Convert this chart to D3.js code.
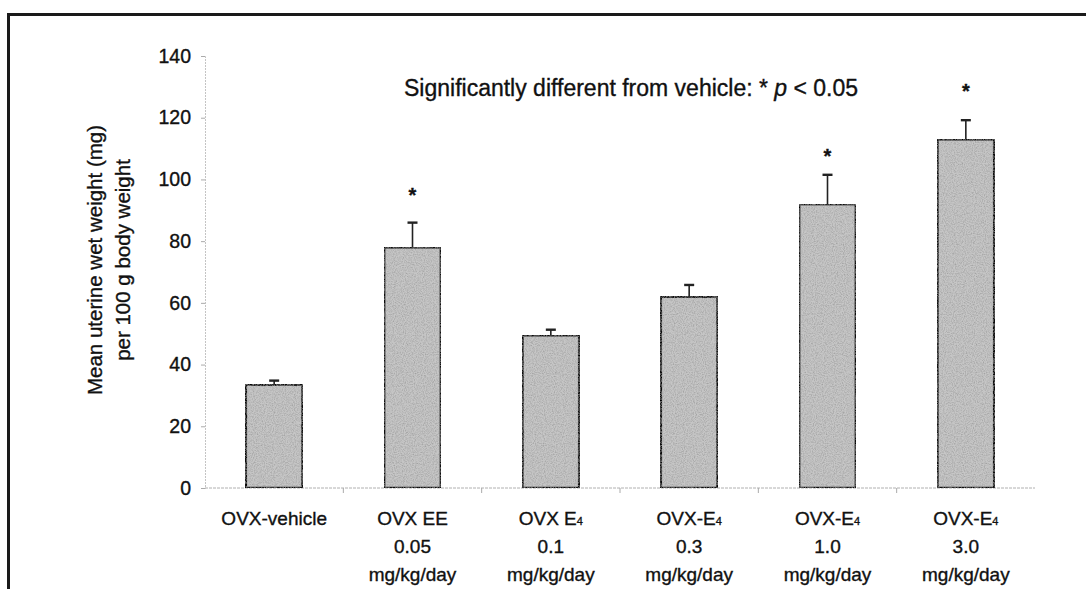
<!DOCTYPE html>
<html>
<head>
<meta charset="utf-8">
<script src="https://cdn.jsdelivr.net/npm/d3@7"></script>
<style>
  html, body { margin: 0; padding: 0; background: #fff; }
  svg { display: block; }
  text { font-family: "Liberation Sans", Arial, sans-serif; fill: #111; stroke: #111; stroke-width: 0.35px; }
</style>
</head>
<body>
<svg id="chart" width="1086" height="589"></svg>
<script>
// Treatment groups (first line of label, dose, unit)
const groups = ["OVX-vehicle", "OVX EE", "OVX E4", "OVX-E4", "OVX-E4", "OVX-E4"];
const doses = ["", "0.05", "0.1", "0.3", "1.0", "3.0"];
const units = ["", "mg/kg/day", "mg/kg/day", "mg/kg/day", "mg/kg/day", "mg/kg/day"];
// Mean uterine wet weight (mg per 100 g body weight) and upper SEM
const means = [33.5, 78, 49.5, 62, 92, 113];
const sem = [1.3, 8, 1.8, 3.8, 9.5, 6.2];
// Groups significantly different from vehicle, with the level of the marker
const significant = [false, true, false, false, true, true];
const starLevel = [null, 96, null, null, 108.5, 129.5];
const yTicks = [0, 20, 40, 60, 80, 100, 120, 140];

const svg = d3.select("#chart");

// Outer frame (top and left edges)
svg.append("path")
  .attr("d", "M8.5,1000 L8.5,14.5 L1100,14.5")
  .attr("fill", "none").attr("stroke", "#1a1a1a").attr("stroke-width", 3);

const x0 = 205, x1 = 1035, yTop = 56, yBase = 488;

const x = d3.scaleBand().domain(d3.range(groups.length)).range([x0, x1])
  .paddingInner(0.59).paddingOuter(0.295);
const y = d3.scaleLinear().domain([0, 140]).range([yBase, yTop]);

// grainy fill for the bars
const defs = svg.append("defs");
const f = defs.append("filter").attr("id", "grain").attr("x", 0).attr("y", 0).attr("width", 1).attr("height", 1);
f.append("feTurbulence").attr("type", "fractalNoise").attr("baseFrequency", 0.9).attr("numOctaves", 2).attr("seed", 3).attr("result", "n");
f.append("feColorMatrix").attr("in", "n").attr("type", "matrix")
  .attr("values", "0 0 0 0 0.3  0 0 0 0 0.3  0 0 0 0 0.3  1.5 0 0 0 -0.55").attr("result", "g");
f.append("feComposite").attr("in", "g").attr("in2", "SourceGraphic").attr("operator", "in").attr("result", "gc");
f.append("feMerge").selectAll("feMergeNode").data(["SourceGraphic", "gc"]).join("feMergeNode").attr("in", d => d);

// Y axis
const yAxis = svg.append("g").attr("transform", `translate(${x0},0)`)
  .call(d3.axisLeft(y).tickValues(yTicks).tickSize(4).tickPadding(10));
yAxis.select(".domain").attr("stroke", "#c4c4c4").attr("stroke-dasharray", "2,1");
yAxis.selectAll(".tick line").attr("stroke", "#aaa");
yAxis.selectAll(".tick text").style("font-size", "19.5px").attr("fill", "#111")
  .style("font-family", "'Liberation Sans', Arial, sans-serif");

// X axis baseline with separators between groups
const xAxisG = svg.append("g");
xAxisG.append("line").attr("x1", x0).attr("x2", x1).attr("y1", yBase).attr("y2", yBase)
  .attr("stroke", "#b0b0b0").attr("stroke-dasharray", "3,1");
xAxisG.selectAll("line.sep").data(d3.range(1, groups.length)).join("line").attr("class", "sep")
  .attr("x1", i => x0 + x.step() * i).attr("x2", i => x0 + x.step() * i)
  .attr("y1", yBase).attr("y2", yBase + 5).attr("stroke", "#aaa");

// Bars
svg.append("g").selectAll("rect").data(means).join("rect")
  .attr("x", (d, i) => x(i)).attr("width", x.bandwidth())
  .attr("y", d => y(d)).attr("height", d => yBase - y(d))
  .attr("fill", "#c6c6c6").attr("filter", "url(#grain)")
  .attr("stroke", "#111").attr("stroke-width", 2.5);

// Upper error bars
const eb = svg.append("g").attr("stroke", "#222").attr("stroke-width", 1.6);
means.forEach((m, i) => {
  const cx = x(i) + x.bandwidth() / 2;
  eb.append("line").attr("x1", cx).attr("x2", cx).attr("y1", y(m)).attr("y2", y(m + sem[i]));
  eb.append("line").attr("x1", cx - 5).attr("x2", cx + 5).attr("y1", y(m + sem[i])).attr("y2", y(m + sem[i])).attr("stroke-width", 2.4);
});

// Significance markers
svg.append("g").selectAll("text").data(d3.range(groups.length).filter(i => significant[i])).join("text")
  .attr("x", i => x(i) + x.bandwidth() / 2).attr("y", i => y(starLevel[i]) + 10)
  .attr("text-anchor", "middle").style("font-size", "20px").style("font-weight", "bold").text("*");

// Category labels
const lab = svg.append("g").style("font-size", "19px");
groups.forEach((g, i) => {
  const cx = x(i) + x.bandwidth() / 2;
  const t = lab.append("text").attr("x", cx).attr("y", 525).attr("text-anchor", "middle");
  const m = g.match(/^(.*E)4$/);
  if (m) {
    t.append("tspan").text(m[1]);
    t.append("tspan").attr("font-size", "11px").text("4");
  } else t.text(g);
  if (doses[i]) lab.append("text").attr("x", cx).attr("y", 553).attr("text-anchor", "middle").text(doses[i]);
  if (units[i]) lab.append("text").attr("x", cx).attr("y", 581).attr("text-anchor", "middle").text(units[i]);
});

// Y axis title
const yt = svg.append("text").attr("transform", "translate(0,260) rotate(-90)")
  .attr("text-anchor", "middle").style("font-size", "20.5px");
yt.append("tspan").attr("x", 0).attr("y", 102).text("Mean uterine wet weight (mg)");
yt.append("tspan").attr("x", 0).attr("y", 130).text("per 100 g body weight");

// Significance note
const note = svg.append("text").attr("x", 404).attr("y", 96).style("font-size", "23px");
note.append("tspan").text("Significantly different from vehicle: * ");
note.append("tspan").style("font-style", "italic").text("p");
note.append("tspan").text(" < 0.05");
</script>
</body>
</html>
